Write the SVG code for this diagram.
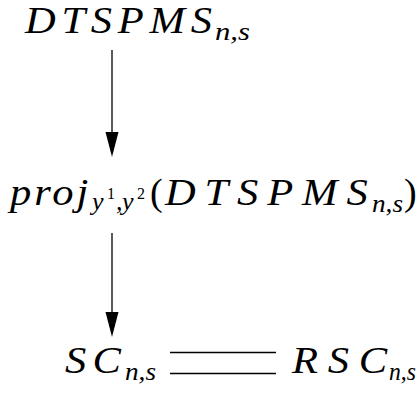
<svg xmlns="http://www.w3.org/2000/svg" width="419" height="401" viewBox="0 0 419 401">
<style>
text{font-family:"Liberation Serif","Times New Roman",serif;font-style:italic;fill:#000}
.m{font-size:38px}
.s{font-size:26px}
.t{font-size:16px;font-style:normal}
.u{font-style:normal}
.c{stroke:#000;stroke-width:1.3;fill:none}
</style>
<g id="n1">
<text class="m" transform="translate(25 33) scale(1.12 1)" textLength="167" lengthAdjust="spacing">DTSPMS</text>
<text class="s" x="215" y="40" textLength="35" lengthAdjust="spacingAndGlyphs">n,s</text>
</g>
<g id="n2">
<text class="m" transform="translate(10 205) scale(1.12 1)" textLength="70" lengthAdjust="spacing">proj</text>
<text class="s" x="92" y="210">y</text>
<text class="t" x="107" y="199">1</text>
<text class="s" x="116" y="210">,</text>
<text class="s" x="122" y="210">y</text>
<text class="t" x="137" y="199">2</text>
<text class="m u" x="150" y="205">(</text>
<text class="m" transform="translate(165 205) scale(1.12 1)" textLength="181" lengthAdjust="spacing">DTSPMS</text>
<text class="s" x="372" y="212" textLength="31" lengthAdjust="spacingAndGlyphs">n,s</text>
<text class="m u" x="404" y="205">)</text>
</g>
<g id="n3">
<text class="m" transform="translate(65 373) scale(1.12 1)" textLength="50" lengthAdjust="spacing">SC</text>
<text class="s" x="125" y="380" textLength="31" lengthAdjust="spacingAndGlyphs">n,s</text>
</g>
<g id="n4">
<text class="m" transform="translate(292 373) scale(1.12 1)" textLength="85" lengthAdjust="spacing">RSC</text>
<text class="s" x="389" y="380" textLength="27" lengthAdjust="spacingAndGlyphs">n,s</text>
</g>
<g id="connectors">
<line class="c" x1="112" y1="50" x2="112" y2="134"/>
<path d="M105.5,132 L118.5,132 L112,157 Z"/>
<line class="c" x1="112" y1="233" x2="112" y2="314"/>
<path d="M105.5,312 L118.5,312 L112,337 Z"/>
<line class="c" x1="170" y1="352.5" x2="276" y2="352.5"/>
<line class="c" x1="170" y1="373.5" x2="276" y2="373.5"/>
</g>
</svg>
